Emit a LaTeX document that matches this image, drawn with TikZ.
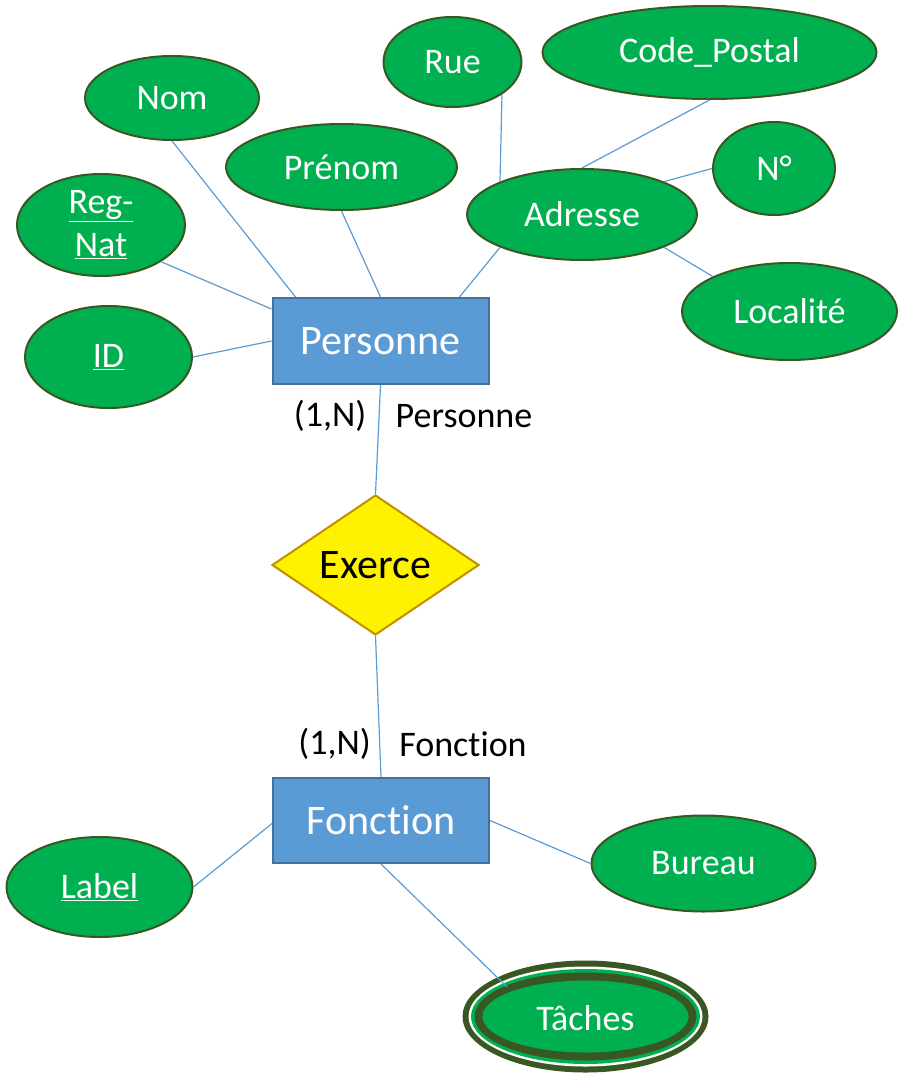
\documentclass[tikz,border=0pt]{standalone}
\usepackage{fontspec}
\setmainfont{Carlito}[Ligatures={NoCommon}]
\usetikzlibrary{shapes.geometric}
\definecolor{attrfill}{HTML}{00B050}
\definecolor{attrline}{HTML}{385723}
\definecolor{entfill}{HTML}{5B9BD5}
\definecolor{entline}{HTML}{41719C}
\definecolor{relline}{HTML}{BF9000}
\definecolor{conn}{HTML}{5B9BD5}
\tikzset{
  attr/.style={ellipse, fill=attrfill, draw=attrline, line width=2, inner sep=0pt,
    text=white, font=\fontsize{36}{43}\selectfont, align=center},
  entity/.style={rectangle, fill=entfill, draw=entline, line width=2, inner sep=0pt,
    text=white, font=\fontsize{42}{50}\selectfont},
  rel/.style={diamond, fill=yellow, draw=relline, line width=2, inner sep=0pt,
    font=\fontsize{42}{50}\selectfont},
  card/.style={font=\fontsize{36}{43}\selectfont, inner sep=0pt},
  link/.style={draw=conn, line width=1.2}
}
\begin{document}
\begin{tikzpicture}[x=1pt,y=-1pt]
\useasboundingbox (0,0) rectangle (898,1073);
% entities
\node[entity, minimum width=216, minimum height=86] (per) at (380.5,341) {Personne};
\node[entity, minimum width=216, minimum height=85] (fon) at (381,820.5) {Fonction};
\node[rel, minimum width=207, minimum height=140] (exe) at (375.5,565) {Exerce};
% attributes
\node[attr, minimum width=174, minimum height=84] (nom) at (172,98) {Nom};
\node[attr, minimum width=138, minimum height=90] (rue) at (452.5,62) {Rue};
\node[attr, minimum width=334, minimum height=93] (cp) at (709.5,52.5) {Code\_Postal};
\node[attr, minimum width=231, minimum height=86] (pre) at (341.5,167) {Prénom};
\node[attr, minimum width=168, minimum height=102] (reg) at (101,225) {\underline{Reg-}\\\underline{Nat}};
\node[attr, minimum width=167, minimum height=102] (id) at (108.5,357) {\underline{ID}};
\node[attr, minimum width=230, minimum height=91] (adr) at (582,214.5) {Adresse};
\node[attr, minimum width=122, minimum height=93] (num) at (774,168.5) {N°};
\node[attr, minimum width=215, minimum height=97] (loc) at (789.5,311.5) {Localité};
\node[attr, minimum width=186, minimum height=100] (lab) at (99.5,887) {\underline{Label}};
\node[attr, minimum width=224, minimum height=96] (bur) at (703.5,863.5) {Bureau};
% multivalued attribute Taches
\fill[attrline] (585.5,1016.5) ellipse [x radius=123, y radius=56];
\fill[white] (585.5,1016.5) ellipse [x radius=117, y radius=50];
\fill[attrfill] (585.5,1016.5) ellipse [x radius=114.5, y radius=47.5];
\fill[attrline] (585.5,1016.5) ellipse [x radius=111, y radius=44];
\node[attr, draw=none, minimum width=206, minimum height=72] at (585.5,1016.5) {};
\node[ellipse, inner sep=0pt, minimum width=222, minimum height=88, text=white,
  font=\fontsize{36}{43}\selectfont] (tac) at (585.5,1018) {Tâches};
% connectors
\draw[link] (nom.south) -- ([xshift=24]per.north west);
\draw[link] (pre.south) -- (per.north);
\draw[link] (adr.south west) -- ([xshift=-30]per.north east);
\draw[link] (reg.south east) -- ([yshift=-12]per.north west);
\draw[link] (id.east) -- (per.west);
\draw[link] (rue.south east) -- (adr.north west);
\draw[link] (cp.south) -- (adr.north);
\draw[link] (num.west) -- (adr.north east);
\draw[link] (loc.north west) -- (adr.south east);
\draw[link] (per.south) -- (exe.north);
\draw[link] (exe.south) -- (fon.north);
\draw[link] ([yshift=-3]fon.west) -- (lab.east);
\draw[link] (fon.east) -- (bur.west);
\draw[link] (fon.south) -- (tac.north west);
% cardinalities
\node[card] (c1) at (330,416) {(1,N)};
\node[card] (r1) at (464,416) {Personne};
\node[card] (c2) at (334.5,744) {(1,N)};
\node[card] (r2) at (463,744) {Fonction};
\end{tikzpicture}
\end{document}
